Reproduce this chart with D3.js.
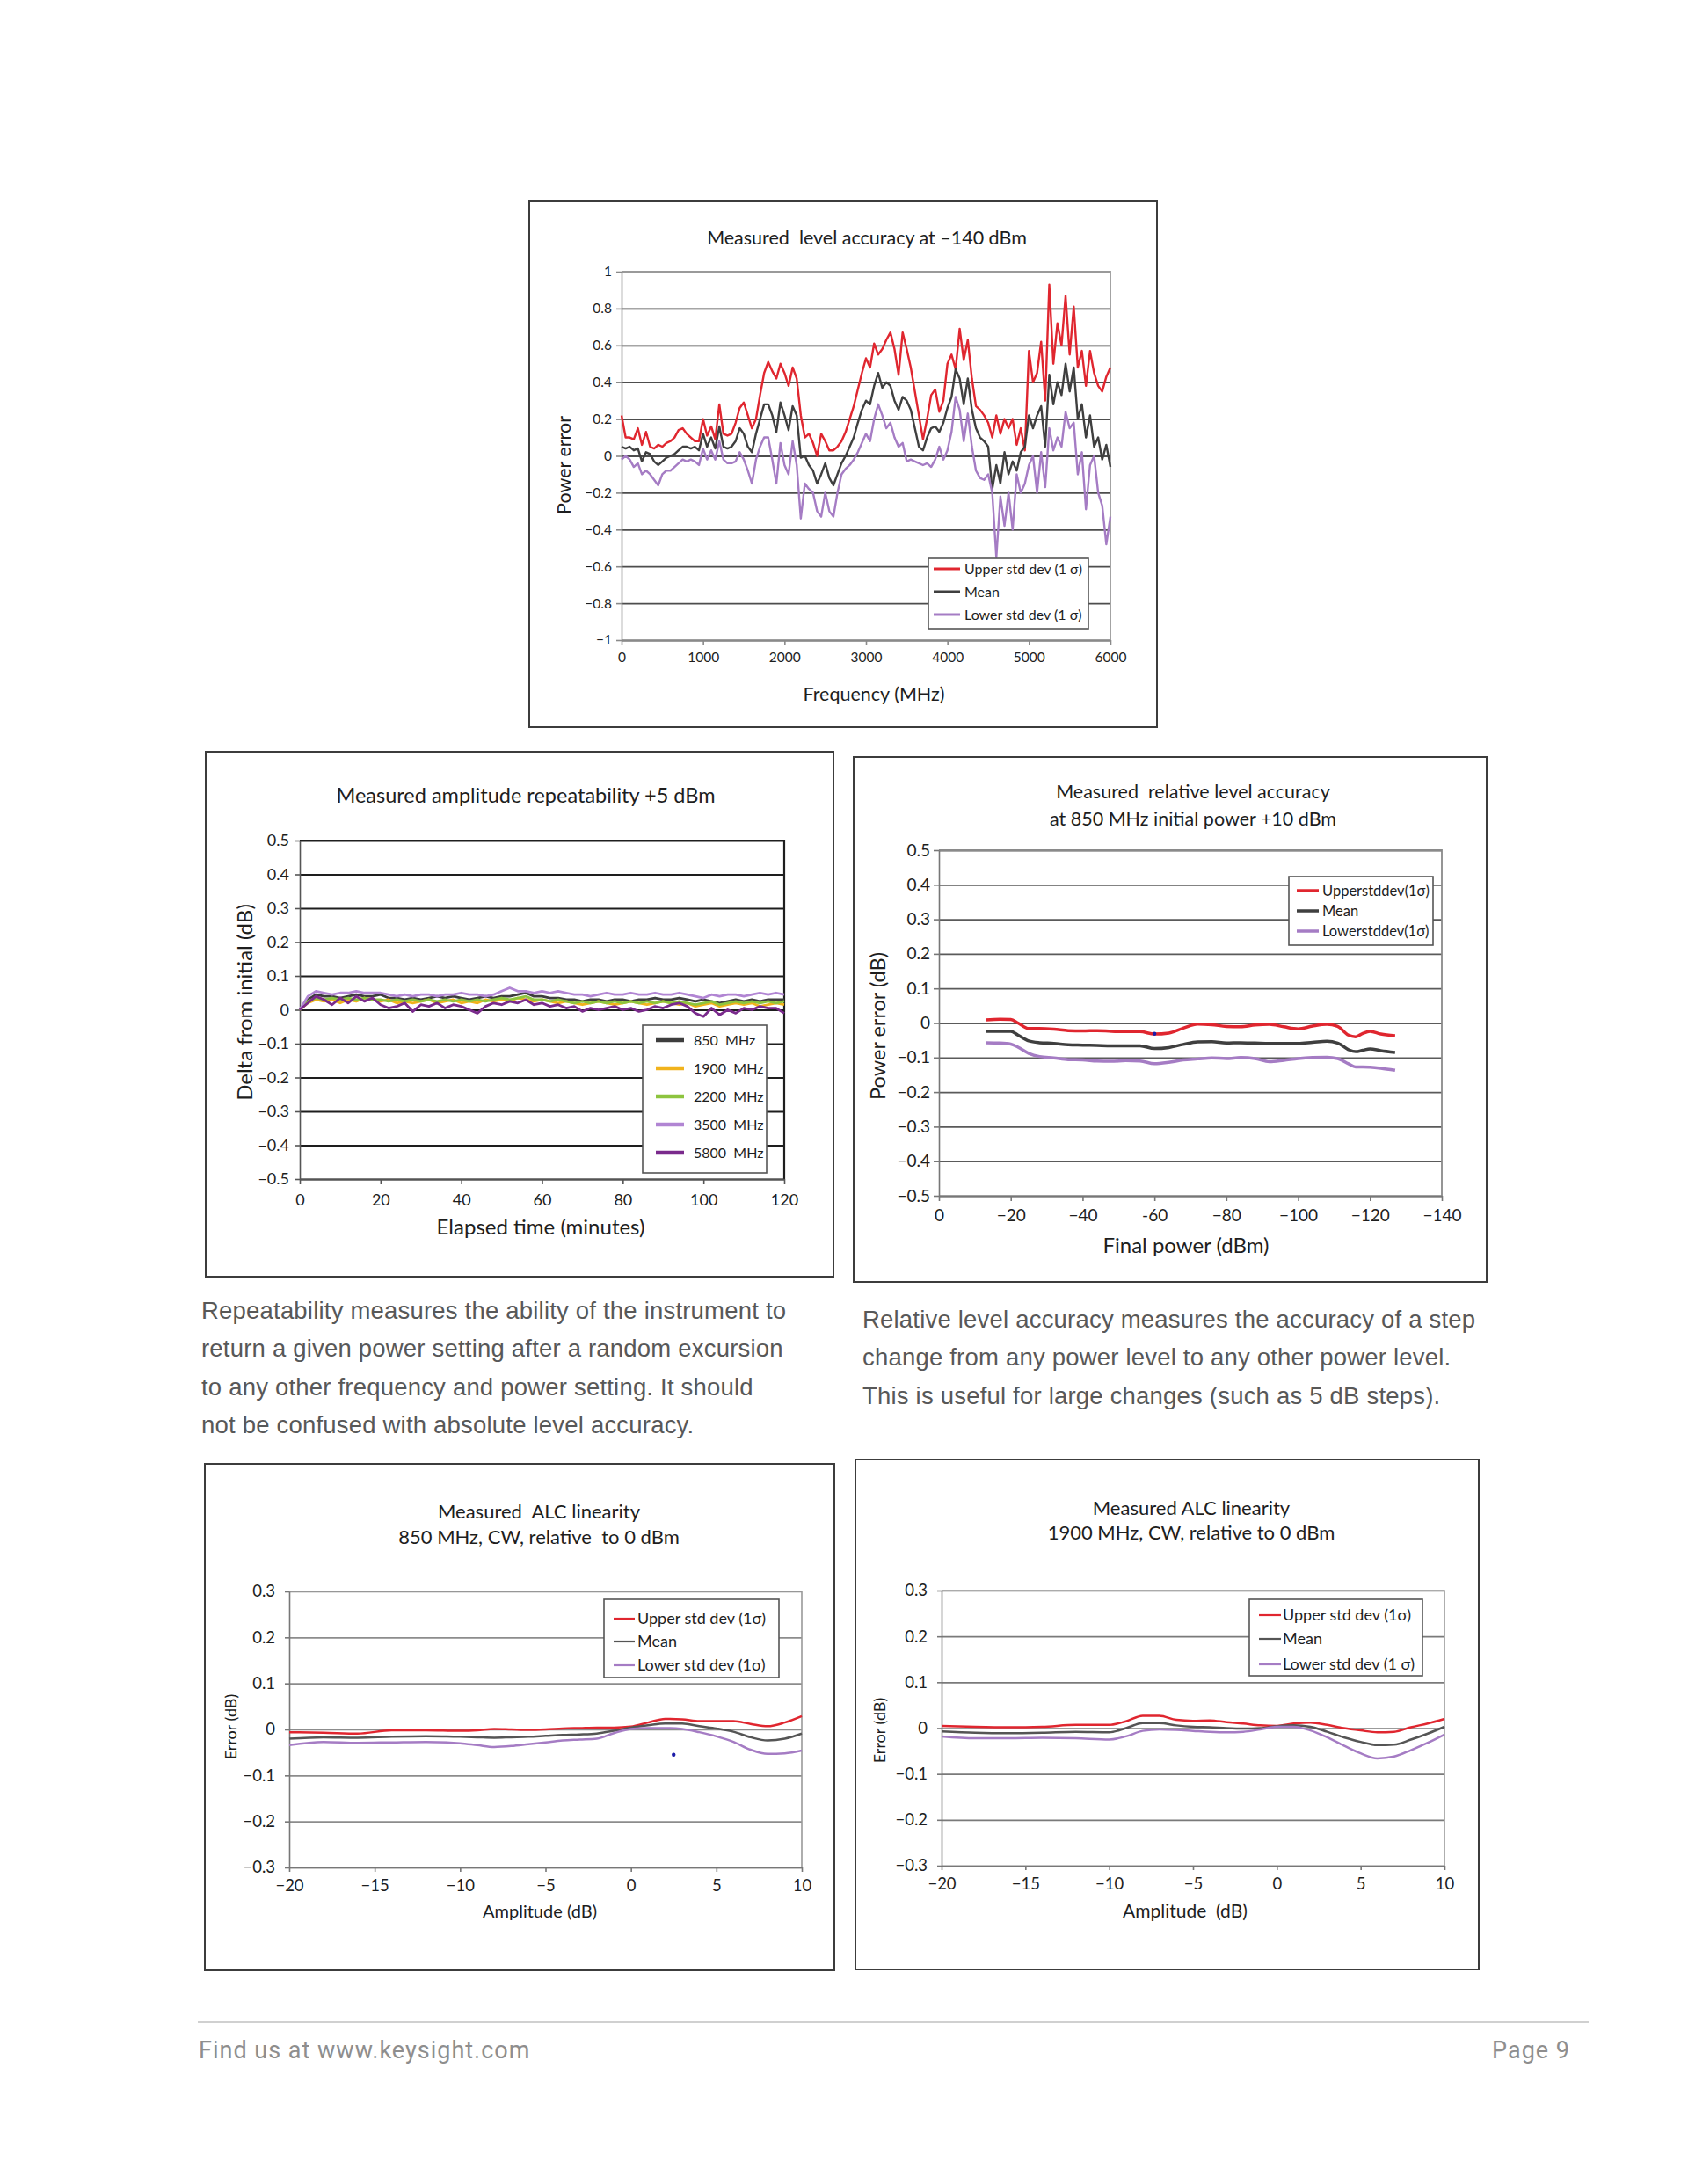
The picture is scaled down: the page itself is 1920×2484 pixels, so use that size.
<!DOCTYPE html>
<html lang="en">
<head>
<meta charset="UTF-8">
<script src="https://d3js.org/d3.v7.min.js"></script>
<style>
body { margin: 0; background: #fff; }
.chart text { font-family: Lato, "Open Sans", sans-serif; fill: #1e1e1e; white-space: pre; }
.para { font-family: "Liberation Sans", Arial, sans-serif; fill: #585858; font-size: 27.5px; letter-spacing: 0.2px; }
.foot { font-family: Roboto, sans-serif; fill: #8e8e8e; font-size: 27px; letter-spacing: 1px; }
</style>
</head>
<body>
<svg id="page" width="1920" height="2484"></svg>
<script>
// ---- chart 1: level accuracy at -140 dBm ----
const freq1 = [0,50,100,150,200,250,300,350,400,450,500,550,600,650,700,750,800,850,900,950,
  1000,1050,1100,1150,1200,1250,1300,1350,1400,1450,1500,1550,1600,1650,1700,1750,1800,1850,1900,1950,
  2000,2050,2100,2150,2200,2250,2300,2350,2400,2450,2500,2550,2600,2650,2700,2750,2800,2850,2900,2950,
  3000,3050,3100,3150,3200,3250,3300,3350,3400,3450,3500,3550,3600,3650,3700,3750,3800,3850,3900,3950,
  4000,4050,4100,4150,4200,4250,4300,4350,4400,4450,4500,4550,4600,4650,4700,4750,4800,4850,4900,4950,
  5000,5050,5100,5150,5200,5250,5300,5350,5400,5450,5500,5550,5600,5650,5700,5750,5800,5850,5900,5950,6000];
const upper1 = [0.22,0.10,0.10,0.09,0.15,0.06,0.13,0.05,0.04,0.06,0.05,0.07,0.08,0.10,0.14,0.15,0.12,0.10,0.08,0.08,
  0.20,0.11,0.16,0.09,0.28,0.12,0.11,0.12,0.18,0.26,0.29,0.22,0.15,0.20,0.33,0.45,0.51,0.46,0.42,0.50,
  0.45,0.38,0.48,0.42,0.22,0.10,0.12,0.07,0.00,0.12,0.08,0.03,0.03,0.05,0.08,0.13,0.20,0.27,0.36,0.45,
  0.53,0.48,0.61,0.55,0.58,0.63,0.67,0.58,0.44,0.67,0.58,0.48,0.35,0.22,0.09,0.20,0.33,0.36,0.24,0.30,
  0.50,0.55,0.47,0.69,0.52,0.63,0.42,0.27,0.25,0.22,0.18,0.10,0.22,0.12,0.20,0.15,0.20,0.06,0.15,0.03,
  0.57,0.40,0.45,0.62,0.30,0.93,0.50,0.72,0.60,0.87,0.55,0.81,0.48,0.57,0.38,0.57,0.45,0.38,0.35,0.43,0.48];
const mean1 = [0.05,0.04,0.05,0.03,0.04,-0.03,0.02,0.01,-0.03,-0.05,-0.03,-0.01,0.00,0.01,0.03,0.05,0.05,0.04,0.05,0.03,
  0.12,0.05,0.10,0.04,0.16,0.05,0.04,0.05,0.08,0.15,0.12,0.05,0.02,0.12,0.20,0.28,0.28,0.22,0.13,0.29,
  0.22,0.14,0.27,0.22,-0.01,0.00,-0.05,-0.08,-0.15,-0.10,-0.04,-0.12,-0.16,-0.10,-0.04,0.00,0.05,0.10,0.18,0.25,
  0.30,0.28,0.38,0.45,0.37,0.40,0.38,0.30,0.25,0.32,0.30,0.25,0.15,0.05,0.03,0.10,0.15,0.16,0.13,0.18,
  0.26,0.32,0.47,0.42,0.28,0.42,0.25,0.15,0.10,0.08,0.05,-0.18,-0.05,-0.15,0.02,-0.10,-0.03,-0.08,0.02,0.05,
  0.22,0.15,0.22,0.27,0.05,0.44,0.28,0.40,0.33,0.50,0.35,0.48,0.20,0.28,0.10,0.22,0.05,0.10,-0.02,0.06,-0.06];
const lower1 = [-0.02,0.00,-0.02,-0.06,-0.04,-0.10,-0.08,-0.10,-0.13,-0.16,-0.10,-0.08,-0.08,-0.06,-0.04,-0.02,-0.03,-0.02,-0.03,-0.05,
  0.04,-0.02,0.03,-0.02,0.08,-0.02,-0.04,-0.04,-0.03,0.02,-0.02,-0.08,-0.15,-0.02,0.05,0.10,0.10,-0.02,-0.15,0.07,
  -0.05,-0.10,0.08,-0.05,-0.34,-0.15,-0.18,-0.20,-0.30,-0.33,-0.20,-0.30,-0.33,-0.20,-0.10,-0.07,-0.05,-0.02,0.02,0.07,
  0.12,0.08,0.20,0.28,0.22,0.15,0.18,0.10,0.05,0.07,-0.03,-0.02,-0.03,-0.04,-0.05,-0.04,-0.06,-0.02,0.05,-0.02,
  0.03,0.13,0.32,0.25,0.08,0.23,0.05,-0.08,-0.12,-0.13,-0.10,-0.20,-0.55,-0.22,-0.38,-0.20,-0.40,-0.10,-0.20,-0.15,
  -0.05,0.00,-0.20,0.02,-0.17,0.15,0.03,0.10,0.05,0.24,0.15,0.18,-0.10,0.02,-0.29,-0.05,0.00,-0.20,-0.27,-0.48,-0.33];
const xTicks1 = [0,1000,2000,3000,4000,5000,6000];
const yTicks1 = [-1,-0.8,-0.6,-0.4,-0.2,0,0.2,0.4,0.6,0.8,1];

// ---- chart 2: amplitude repeatability ----
const time2 = [0,2,4,6,8,10,12,14,16,18,20,22,24,26,28,30,32,34,36,38,40,42,44,46,48,50,52,54,56,58,
  60,62,64,66,68,70,72,74,76,78,80,82,84,86,88,90,92,94,96,98,100,102,104,106,108,110,112,114,116,118,120];
const rep850 = [0,0.03,0.045,0.04,0.04,0.035,0.04,0.045,0.04,0.04,0.045,0.035,0.035,0.03,0.035,0.03,0.035,0.04,0.035,0.04,
  0.035,0.03,0.035,0.04,0.035,0.04,0.04,0.045,0.05,0.04,0.04,0.035,0.035,0.03,0.03,0.025,0.03,0.03,0.025,0.03,
  0.03,0.025,0.03,0.03,0.035,0.03,0.03,0.035,0.03,0.025,0.03,0.025,0.02,0.025,0.03,0.025,0.03,0.025,0.03,0.03,0.03];
const rep1900 = [0,0.02,0.03,0.025,0.03,0.02,0.03,0.025,0.035,0.03,0.025,0.03,0.02,0.025,0.02,0.025,0.03,0.02,0.025,0.03,
  0.02,0.025,0.02,0.03,0.025,0.03,0.025,0.035,0.03,0.025,0.03,0.025,0.02,0.025,0.02,0.015,0.02,0.025,0.02,0.015,
  0.02,0.025,0.02,0.015,0.02,0.025,0.02,0.015,0.02,0.01,0.015,0.02,0.01,0.015,0.02,0.015,0.02,0.01,0.015,0.02,0.015];
const rep2200 = [0,0.025,0.035,0.03,0.035,0.03,0.035,0.03,0.035,0.03,0.03,0.025,0.03,0.025,0.03,0.025,0.03,0.025,0.03,0.025,
  0.03,0.025,0.03,0.025,0.03,0.035,0.03,0.035,0.04,0.03,0.03,0.025,0.03,0.025,0.02,0.025,0.02,0.025,0.02,0.025,
  0.02,0.025,0.02,0.025,0.02,0.025,0.02,0.025,0.02,0.015,0.02,0.025,0.015,0.02,0.025,0.02,0.025,0.02,0.025,0.02,0.025];
const rep3500 = [0,0.04,0.055,0.05,0.045,0.05,0.05,0.055,0.05,0.05,0.05,0.045,0.04,0.045,0.04,0.045,0.045,0.04,0.045,0.045,
  0.05,0.045,0.045,0.04,0.045,0.055,0.065,0.055,0.055,0.05,0.055,0.05,0.055,0.05,0.045,0.045,0.04,0.045,0.05,0.045,
  0.045,0.05,0.045,0.045,0.05,0.045,0.045,0.05,0.045,0.04,0.035,0.045,0.04,0.045,0.045,0.04,0.045,0.05,0.045,0.05,0.045];
const rep5800 = [0,0.02,0.04,0.03,0.015,0.035,0.02,0.04,0.025,0.035,0.015,0.005,0.01,0.02,-0.005,0.015,0.01,0.02,0.005,0.015,
  0.01,0,-0.01,0.01,0.02,0.015,0.025,0.02,0.03,0.015,0.02,0.01,0.015,0.005,0.01,-0.005,0.005,0,0.005,0.01,
  0,0.005,-0.005,0,0.01,0.005,0.015,0.02,0.01,-0.01,-0.02,0.005,-0.015,0,-0.01,0.005,0,0.01,0.005,0.005,-0.01];
const xTicks2 = [0,20,40,60,80,100,120];
const yTicks2 = [-0.5,-0.4,-0.3,-0.2,-0.1,0,0.1,0.2,0.3,0.4,0.5];

// ---- chart 3: relative level accuracy ----
const power3 = [-13,-17,-20,-22,-25,-28,-32,-36,-40,-44,-48,-52,-56,-60,-64,-68,-72,-76,-80,-84,-88,-92,-96,-100,-104,-108,-111,-114,-116,-118,-120,-123,-127];
const upper3 = [0.009,0.011,0.010,0.000,-0.016,-0.016,-0.018,-0.022,-0.023,-0.022,-0.024,-0.025,-0.025,-0.032,-0.029,-0.015,-0.003,
  -0.005,-0.010,-0.011,-0.006,-0.004,-0.011,-0.017,-0.009,-0.004,-0.010,-0.035,-0.040,-0.030,-0.024,-0.032,-0.037];
const mean3 = [-0.024,-0.024,-0.024,-0.035,-0.052,-0.057,-0.059,-0.063,-0.064,-0.065,-0.066,-0.066,-0.066,-0.074,-0.071,-0.062,-0.055,
  -0.054,-0.058,-0.057,-0.058,-0.059,-0.059,-0.059,-0.056,-0.053,-0.058,-0.077,-0.083,-0.079,-0.075,-0.080,-0.085];
const lower3 = [-0.057,-0.058,-0.061,-0.070,-0.088,-0.097,-0.101,-0.106,-0.107,-0.110,-0.111,-0.109,-0.110,-0.118,-0.114,-0.107,-0.104,
  -0.101,-0.103,-0.100,-0.103,-0.112,-0.108,-0.103,-0.100,-0.099,-0.103,-0.118,-0.127,-0.127,-0.128,-0.131,-0.137];
const xTicks3 = [0,-20,-40,-60,-80,-100,-120,-140];
const xLabels3 = ['0','\u221220','\u221240','-60','\u221280','\u2212100','\u2212120','\u2212140'];
const yTicks3 = [-0.5,-0.4,-0.3,-0.2,-0.1,0,0.1,0.2,0.3,0.4,0.5];
const dot3 = [[-60,-0.031]];

// ---- charts 4 and 5: ALC linearity ----
const amp = [-20,-18,-16,-14,-12,-10,-9,-8,-7,-6,-5,-4,-3,-2,-1,0,1,2,3,4,5,6,7,8,9,10];
const upper4 = [-0.006,-0.007,-0.009,-0.002,-0.002,-0.003,-0.002,0.001,0.000,-0.001,0.000,0.002,0.003,0.004,0.004,0.006,
  0.015,0.023,0.022,0.018,0.018,0.018,0.012,0.007,0.015,0.029];
const mean4 = [-0.020,-0.017,-0.018,-0.016,-0.015,-0.016,-0.017,-0.018,-0.017,-0.016,-0.014,-0.012,-0.011,-0.009,-0.003,0.004,
  0.009,0.013,0.013,0.007,0.002,-0.005,-0.017,-0.024,-0.020,-0.009];
const lower4 = [-0.034,-0.027,-0.029,-0.028,-0.027,-0.030,-0.034,-0.038,-0.036,-0.032,-0.028,-0.024,-0.022,-0.020,-0.008,0.001,
  0.003,0.003,0.001,-0.006,-0.015,-0.027,-0.044,-0.053,-0.052,-0.046];
const dot4 = [[2.5,-0.055]];
const upper5 = [0.005,0.003,0.002,0.003,0.007,0.007,0.015,0.027,0.027,0.018,0.016,0.017,0.013,0.010,0.006,0.005,
  0.010,0.012,0.007,0.000,-0.005,-0.009,-0.008,0.002,0.010,0.020];
const mean5 = [-0.007,-0.010,-0.011,-0.010,-0.008,-0.009,0.000,0.011,0.011,0.006,0.003,0.002,0.000,-0.001,0.000,0.004,
  0.006,0.003,-0.008,-0.020,-0.030,-0.037,-0.036,-0.025,-0.012,0.003];
const lower5 = [-0.018,-0.022,-0.022,-0.021,-0.022,-0.025,-0.018,-0.006,-0.003,-0.004,-0.006,-0.008,-0.009,-0.008,-0.003,0.003,
  0.003,-0.005,-0.020,-0.038,-0.055,-0.066,-0.062,-0.048,-0.032,-0.014];
const xTicks45 = [-20,-15,-10,-5,0,5,10];
const yTicks45 = [-0.3,-0.2,-0.1,0,0.1,0.2,0.3];

const RED = '#e0262f', GREY = '#3f3f3f', PURPLE = '#a57cc4';

const svg = d3.select('#page');
const fmtNum = v => (v < 0 ? '\u2212' : '') + d3.format('~g')(Math.abs(v));

function drawChart(o) {
  const g = svg.append('g').attr('class', 'chart');
  const [bx0, by0, bx1, by1] = o.box;
  const [pl, pt, pr, pb] = o.plot;

  g.append('rect')
    .attr('x', bx0).attr('y', by0)
    .attr('width', bx1 - bx0).attr('height', by1 - by0)
    .attr('fill', '#fff').attr('stroke', '#3c3c3c').attr('stroke-width', 2);

  const x = d3.scaleLinear().domain(o.xDomain).range([pl, pr]);
  const y = d3.scaleLinear().domain(o.yDomain).range([pb, pt]);

  // gridlines
  g.append('g')
    .attr('transform', `translate(${pl},0)`)
    .call(d3.axisLeft(y).tickValues(o.yTicks).tickSize(-(pr - pl)).tickFormat(''))
    .call(a => a.select('.domain').remove())
    .selectAll('line')
    .attr('stroke', o.gridColor).attr('stroke-width', o.gridWidth);

  // top and right frame
  g.append('path')
    .attr('d', `M${pl},${pt}H${pr}V${pb}`)
    .attr('fill', 'none').attr('stroke', o.frameColor).attr('stroke-width', o.gridWidth);

  // axes
  const yAxis = g.append('g').attr('transform', `translate(${pl},0)`)
    .call(d3.axisLeft(y).tickValues(o.yTicks).tickSize(o.tick).tickSizeOuter(0)
      .tickPadding(o.yPad).tickFormat(fmtNum));
  const xAxis = g.append('g').attr('transform', `translate(0,${pb})`)
    .call(d3.axisBottom(x).tickValues(o.xTicks).tickSize(o.tick).tickSizeOuter(0)
      .tickPadding(o.xPad).tickFormat((d, i) => o.xLabels ? o.xLabels[i] : fmtNum(d)));
  [yAxis, xAxis].forEach(a => {
    a.attr('font-family', null).attr('font-size', null);
    a.selectAll('path, line').attr('stroke', o.axisColor).attr('stroke-width', 1.6);
    a.selectAll('text').style('font-size', o.tickFont + 'px');
  });

  // series
  const line = d3.line().x(d => x(d[0])).y(d => y(d[1])).curve(o.curve);
  o.series.forEach(s => {
    g.append('path')
      .datum(s.values.map((v, i) => [s.xs[i], v]))
      .attr('d', line)
      .attr('fill', 'none').attr('stroke', s.color)
      .attr('stroke-width', o.lineWidth).attr('stroke-linejoin', 'round');
  });

  if (o.dots) {
    g.selectAll('.dot').data(o.dots).enter().append('circle')
      .attr('cx', d => x(d[0])).attr('cy', d => y(d[1]))
      .attr('r', 2.2).attr('fill', '#1c1ca8');
  }

  // legend
  const lg = o.legend;
  g.append('rect')
    .attr('x', lg.box[0]).attr('y', lg.box[1])
    .attr('width', lg.box[2] - lg.box[0]).attr('height', lg.box[3] - lg.box[1])
    .attr('fill', '#fff').attr('stroke', '#555').attr('stroke-width', 1.6);
  o.series.forEach((s, i) => {
    g.append('line')
      .attr('x1', lg.sw[0]).attr('x2', lg.sw[1])
      .attr('y1', lg.rows[i]).attr('y2', lg.rows[i])
      .attr('stroke', s.color).attr('stroke-width', lg.swWidth);
    g.append('text')
      .attr('x', lg.textX).attr('y', lg.rows[i]).attr('dy', '0.35em')
      .style('font-size', lg.font + 'px')
      .text(s.name);
  });

  // titles
  o.title.forEach(t => {
    g.append('text')
      .attr('x', o.titleX).attr('y', t[1])
      .attr('text-anchor', 'middle')
      .style('font-size', o.titleFont + 'px')
      .text(t[0]);
  });
  g.append('text')
    .attr('x', o.xTitle.x).attr('y', o.xTitle.y)
    .attr('text-anchor', 'middle')
    .style('font-size', o.xTitle.size + 'px')
    .text(o.xTitle.text);
  g.append('text')
    .attr('transform', `translate(${o.yTitle.x},${o.yTitle.y}) rotate(-90)`)
    .attr('text-anchor', 'middle').attr('dy', '0.35em')
    .style('font-size', o.yTitle.size + 'px')
    .text(o.yTitle.text);
}

// chart 1
drawChart({
  box: [602, 229, 1316, 827], plot: [707, 309, 1263, 728],
  xDomain: [0, 6000], yDomain: [-1, 1], xTicks: xTicks1, yTicks: yTicks1,
  gridColor: '#4d4d4d', gridWidth: 1.8, frameColor: '#9a9a9a', axisColor: '#8a8a8a',
  tick: 6, yPad: 5, xPad: 8, tickFont: 15.5, curve: d3.curveLinear, lineWidth: 2.4,
  series: [
    { name: 'Upper std dev (1 \u03c3)', xs: freq1, values: upper1, color: RED },
    { name: 'Mean', xs: freq1, values: mean1, color: GREY },
    { name: 'Lower std dev (1 \u03c3)', xs: freq1, values: lower1, color: PURPLE }
  ],
  legend: { box: [1056, 635, 1238, 715], rows: [647, 673, 699], sw: [1062, 1092], swWidth: 3, textX: 1097, font: 16 },
  title: [['Measured  level accuracy at \u2013140 dBm', 278]], titleX: 986, titleFont: 21.5,
  xTitle: { text: 'Frequency (MHz)', x: 994, y: 797, size: 21.5 },
  yTitle: { text: 'Power error', x: 641, y: 529, size: 21.5 }
});

// chart 2
drawChart({
  box: [234, 855, 948, 1452], plot: [341, 956, 892, 1341],
  xDomain: [0, 120], yDomain: [-0.5, 0.5], xTicks: xTicks2, yTicks: yTicks2,
  gridColor: '#1e1e1e', gridWidth: 2.2, frameColor: '#1e1e1e', axisColor: '#555',
  tick: 6, yPad: 6, xPad: 11, tickFont: 18, curve: d3.curveLinear, lineWidth: 2.8,
  series: [
    { name: '850  MHz', xs: time2, values: rep850, color: '#3d3d3d' },
    { name: '1900  MHz', xs: time2, values: rep1900, color: '#f1b31c' },
    { name: '2200  MHz', xs: time2, values: rep2200, color: '#8dc43f' },
    { name: '3500  MHz', xs: time2, values: rep3500, color: '#b185d3' },
    { name: '5800  MHz', xs: time2, values: rep5800, color: '#7a2a8c' }
  ],
  legend: { box: [731, 1166, 872, 1334], rows: [1183, 1215, 1247, 1279, 1311], sw: [746, 778], swWidth: 4.5, textX: 789, font: 16 },
  title: [['Measured amplitude repeatability +5 dBm', 913]], titleX: 598, titleFont: 23.5,
  xTitle: { text: 'Elapsed time (minutes)', x: 615, y: 1404, size: 24 },
  yTitle: { text: 'Delta from initial (dB)', x: 279, y: 1140, size: 24 }
});

// chart 3
drawChart({
  box: [971, 861, 1691, 1458], plot: [1068, 967, 1640, 1360],
  xDomain: [0, -140], yDomain: [-0.5, 0.5], xTicks: xTicks3, xLabels: xLabels3, yTicks: yTicks3,
  gridColor: '#5a5a5a', gridWidth: 1.8, frameColor: '#8a8a8a', axisColor: '#777',
  tick: 6, yPad: 4, xPad: 10, tickFont: 19, curve: d3.curveMonotoneX, lineWidth: 3.5,
  dots: dot3,
  series: [
    { name: 'Upperstddev(1\u03c3)', xs: power3, values: upper3, color: RED },
    { name: 'Mean', xs: power3, values: mean3, color: GREY },
    { name: 'Lowerstddev(1\u03c3)', xs: power3, values: lower3, color: PURPLE }
  ],
  legend: { box: [1466, 997, 1630, 1075], rows: [1013, 1036, 1059], sw: [1475, 1500], swWidth: 3.5, textX: 1504, font: 16.5 },
  title: [['Measured  relative level accuracy', 908], ['at 850 MHz initial power +10 dBm', 939]], titleX: 1357, titleFont: 21.5,
  xTitle: { text: 'Final power (dBm)', x: 1349, y: 1425, size: 24 },
  yTitle: { text: 'Power error (dB)', x: 999, y: 1167, size: 23.5 }
});

// chart 4
drawChart({
  box: [233, 1665, 949, 2241], plot: [329, 1810, 912, 2124],
  xDomain: [-20, 10], yDomain: [-0.3, 0.3], xTicks: xTicks45, yTicks: yTicks45,
  gridColor: '#8c8c8c', gridWidth: 1.6, frameColor: '#9a9a9a', axisColor: '#777',
  tick: 5, yPad: 11, xPad: 9, tickFont: 18.5, curve: d3.curveMonotoneX, lineWidth: 2.5,
  dots: dot4,
  series: [
    { name: 'Upper std dev (1\u03c3)', xs: amp, values: upper4, color: RED },
    { name: 'Mean', xs: amp, values: mean4, color: '#555' },
    { name: 'Lower std dev (1\u03c3)', xs: amp, values: lower4, color: PURPLE }
  ],
  legend: { box: [687, 1819, 886, 1908], rows: [1841, 1867, 1894], sw: [698, 722], swWidth: 2.2, textX: 725, font: 18 },
  title: [['Measured  ALC linearity', 1727], ['850 MHz, CW, relative  to 0 dBm', 1756]], titleX: 613, titleFont: 22,
  xTitle: { text: 'Amplitude (dB)', x: 614, y: 2181, size: 20 },
  yTitle: { text: 'Error (dB)', x: 263, y: 1964, size: 18 }
});

// chart 5
drawChart({
  box: [973, 1660, 1682, 2240], plot: [1071, 1809, 1643, 2122],
  xDomain: [-20, 10], yDomain: [-0.3, 0.3], xTicks: xTicks45, yTicks: yTicks45,
  gridColor: '#7a7a7a', gridWidth: 1.6, frameColor: '#9a9a9a', axisColor: '#777',
  tick: 5, yPad: 11, xPad: 9, tickFont: 18.5, curve: d3.curveMonotoneX, lineWidth: 2.5,
  series: [
    { name: 'Upper std dev (1\u03c3)', xs: amp, values: upper5, color: RED },
    { name: 'Mean', xs: amp, values: mean5, color: '#555' },
    { name: 'Lower std dev (1 \u03c3)', xs: amp, values: lower5, color: PURPLE }
  ],
  legend: { box: [1421, 1819, 1618, 1906], rows: [1837, 1864, 1893], sw: [1432, 1457], swWidth: 2.2, textX: 1459, font: 18 },
  title: [['Measured ALC linearity', 1723], ['1900 MHz, CW, relative to 0 dBm', 1751]], titleX: 1355, titleFont: 22,
  xTitle: { text: 'Amplitude  (dB)', x: 1348, y: 2181, size: 21 },
  yTitle: { text: 'Error (dB)', x: 1001, y: 1968, size: 18 }
});

// body text
const paraLeft = ['Repeatability measures the ability of the instrument to',
  'return a given power setting after a random excursion',
  'to any other frequency and power setting. It should',
  'not be confused with absolute level accuracy.'];
const paraRight = ['Relative level accuracy measures the accuracy of a step',
  'change from any power level to any other power level.',
  'This is useful for large changes (such as 5 dB steps).'];
const leftBase = [1500, 1543, 1587, 1630];
const rightBase = [1510, 1553, 1597];

svg.selectAll('.pl').data(paraLeft).enter().append('text')
  .attr('class', 'para').attr('x', 229).attr('y', (d, i) => leftBase[i]).text(d => d);
svg.selectAll('.pr').data(paraRight).enter().append('text')
  .attr('class', 'para').attr('x', 981).attr('y', (d, i) => rightBase[i]).text(d => d);

// footer
svg.append('line').attr('x1', 225).attr('x2', 1807).attr('y1', 2300).attr('y2', 2300)
  .attr('stroke', '#d0d0d0').attr('stroke-width', 2);
svg.append('text').attr('class', 'foot').attr('x', 226).attr('y', 2341).text('Find us at www.keysight.com');
svg.append('text').attr('class', 'foot').attr('x', 1786).attr('y', 2341).attr('text-anchor', 'end').text('Page 9');
</script>
</body>
</html>
